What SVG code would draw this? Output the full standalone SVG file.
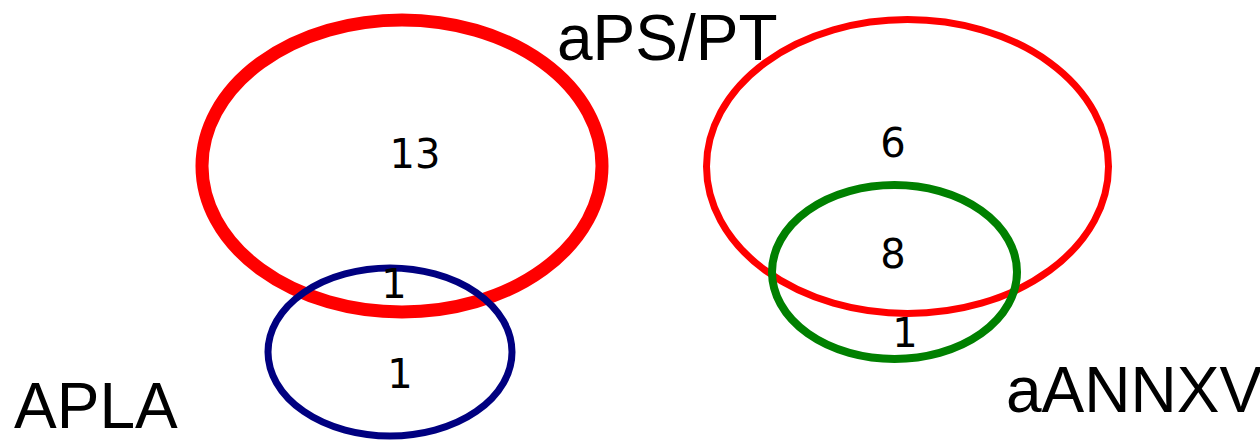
<svg xmlns="http://www.w3.org/2000/svg" width="1260" height="442" viewBox="0 0 1260 442">
  <style>
    .set { fill: none; }
    .count { font-family: "DejaVu Sans", sans-serif; font-size: 40px; fill: #000; text-anchor: middle; }
    .title { font-family: "Liberation Sans", Arial, sans-serif; font-size: 64px; fill: #000; }
  </style>
  <rect width="1260" height="442" fill="#fff"/>

  <!-- left pair: aPS/PT and APLA -->
  <g id="set-aps-left">
    <ellipse class="set" cx="402" cy="166" rx="200" ry="146" stroke="#ff0000" stroke-width="13"/>
  </g>
  <g id="set-apla">
    <ellipse class="set" cx="390" cy="352" rx="122" ry="84" stroke="#000080" stroke-width="7"/>
  </g>

  <!-- right pair: aPS/PT and aANNXV -->
  <g id="set-aps-right">
    <ellipse class="set" cx="907.5" cy="166.5" rx="201" ry="147" stroke="#ff0000" stroke-width="7"/>
  </g>
  <g id="set-aannxv">
    <ellipse class="set" cx="894.5" cy="272" rx="122.5" ry="87" stroke="#008000" stroke-width="8"/>
  </g>

  <g id="connectors"></g>

  <!-- region counts -->
  <g id="counts">
    <text class="count" x="415" y="168">13</text>
    <text class="count" x="394" y="298">1</text>
    <text class="count" x="400" y="388">1</text>
    <text class="count" x="893" y="157">6</text>
    <text class="count" x="893" y="268">8</text>
    <text class="count" x="905" y="347">1</text>
  </g>

  <!-- set titles -->
  <g id="titles">
    <text class="title" x="557" y="60">aPS/PT</text>
    <text class="title" x="14" y="428">APLA</text>
    <text class="title" x="1006" y="412">aANNXV</text>
  </g>
</svg>
